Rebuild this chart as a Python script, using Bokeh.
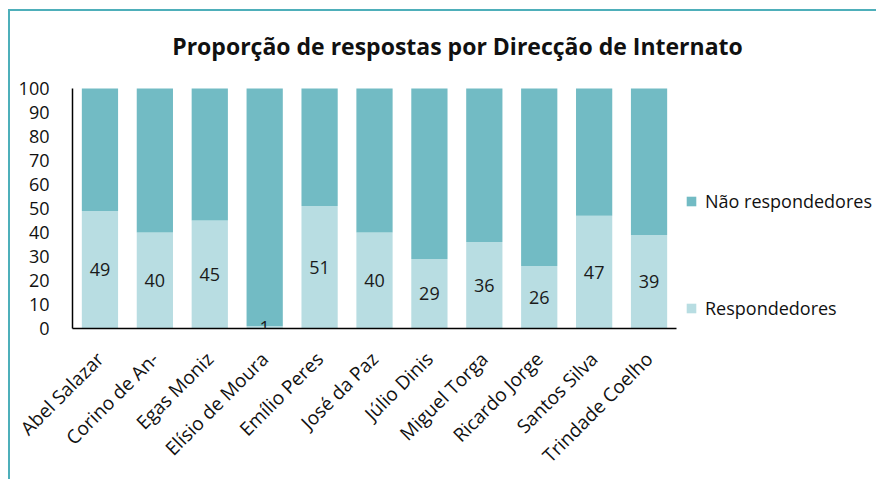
from bokeh.plotting import figure
from bokeh.models import ColumnDataSource, LabelSet, Label, Legend, LegendItem, FixedTicker
from bokeh.core.properties import value
from bokeh.embed import file_html
from bokeh.resources import INLINE
import math

categories = ['Abel Salazar', 'Corino de An-', 'Egas Moniz', 'Elísio de Moura', 'Emílio Peres',
              'José da Paz', 'Júlio Dinis', 'Miguel Torga', 'Ricardo Jorge', 'Santos Silva', 'Trindade Coelho']
respondedores = [49, 40, 45, 1, 51, 40, 29, 36, 26, 47, 39]
nao_respondedores = [51, 60, 55, 99, 49, 60, 71, 64, 74, 53, 61]
series_names = ['Respondedores', 'Não respondedores']
y_ticks = [0, 10, 20, 30, 40, 50, 60, 70, 80, 90, 100]
title_text = 'Proporção de respostas por Direcção de Internato'

DARK = '#72BBC4'
LIGHT = '#B8DDE2'
BORDER = '#4EAFBA'
FONT = 'Open Sans'

n = len(categories)
idx = list(range(n))

# layout (pixels): the axes area is 604 x 240 px; the frame extends right (legend) and up (title)
FIG_W, FIG_H = 868, 470
BL, BR, BT, BB = 62, 1, 9, 153
cat_px = 604 / n
frame_w = FIG_W - BL - BR
frame_h = FIG_H - BT - BB
x_end = -0.5 + frame_w / cat_px
y_end = 100 * frame_h / 240

src = ColumnDataSource(dict(
    x=idx,
    resp=respondedores,
    nao=nao_respondedores,
    label_y=[v / 2 for v in respondedores],
    label_txt=[str(v) for v in respondedores],
))

p = figure(x_range=(-0.5, x_end), y_range=(0, y_end),
           width=FIG_W, height=FIG_H, output_backend="svg", toolbar_location=None,
           min_border_left=BL, min_border_right=BR, min_border_top=BT, min_border_bottom=BB)
p.styles = {"border-left": f"2px solid {BORDER}", "border-top": f"2px solid {BORDER}",
            "margin-left": "8px", "margin-top": "9px"}
p.outline_line_color = None
p.grid.grid_line_color = None
p.background_fill_color = 'white'
p.border_fill_color = 'white'

r1 = p.vbar_stack(['resp', 'nao'], x='x', width=0.66, source=src,
                  color=[LIGHT, DARK], line_color=None)

labels = LabelSet(x='x', y='label_y', text='label_txt', source=src,
                  text_align='center', text_baseline='middle',
                  text_font=value(FONT), text_font_size='18px', text_color='#1a1a1a')
p.add_layout(labels)

p.yaxis.ticker = y_ticks
p.yaxis.bounds = (0, 100)
p.yaxis.major_tick_line_color = None
p.yaxis.minor_tick_line_color = None
p.yaxis.major_label_standoff = 17
p.yaxis.major_label_text_font = FONT
p.yaxis.major_label_text_font_size = '18px'
p.yaxis.major_label_text_color = '#111111'
p.yaxis.axis_line_color = 'black'
p.yaxis.axis_line_width = 1.5

p.xaxis.ticker = FixedTicker(ticks=idx)
p.xaxis.major_label_overrides = {i: c for i, c in zip(idx, categories)}
p.xaxis.bounds = (-0.5, n - 0.5)
p.xaxis.major_tick_line_color = None
p.xaxis.minor_tick_line_color = None
p.xaxis.major_label_orientation = math.pi / 4
p.xaxis.major_label_standoff = 21
p.xaxis.major_label_text_font = FONT
p.xaxis.major_label_text_font_size = '19px'
p.xaxis.major_label_text_color = '#111111'
p.xaxis.axis_line_color = 'black'
p.xaxis.axis_line_width = 1.5

legend = Legend(items=[LegendItem(label=series_names[1], renderers=[r1[1]]),
                       LegendItem(label=series_names[0], renderers=[r1[0]])],
                location=(613, 8), orientation='vertical',
                glyph_width=12, glyph_height=12, label_height=20, spacing=83,
                label_standoff=8, padding=0, margin=0,
                border_line_color=None, background_fill_alpha=0,
                label_text_font=FONT, label_text_font_size='18px', label_text_color='#111111')
p.add_layout(legend)

title = Label(x=385, y=283, x_units='screen', y_units='screen', text=title_text,
              text_align='center', text_baseline='middle', text_font=FONT,
              text_font_size='23px', text_font_style='bold', text_color='#111111')
p.add_layout(title)

open("out.html", "w").write(file_html(p, INLINE))
